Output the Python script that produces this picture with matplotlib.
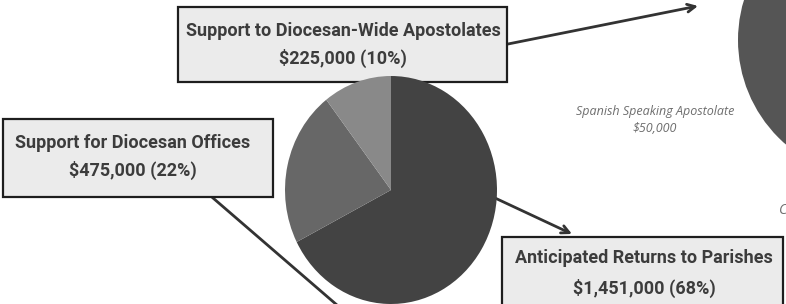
import matplotlib
matplotlib.use('Agg')
import matplotlib.pyplot as plt
from matplotlib.patches import Rectangle, Circle

# slice data (clockwise from 12 o'clock)
labels = ["Anticipated Returns to Parishes",
          "Support for Diocesan Offices",
          "Support to Diocesan-Wide Apostolates"]
amounts = [1451000, 475000, 225000]
percents = [68, 22, 10]
slice_colors = ["#434343", "#676767", "#898989"]

side_label = "Spanish Speaking Apostolate"
side_amount = 50000

W, H = 786, 304
fig = plt.figure(figsize=(W / 100, H / 100), dpi=100)

# full-figure axes in pixel coordinates for boxes, arrows and text
ax = fig.add_axes([0, 0, 1, 1])
ax.set_xlim(0, W)
ax.set_ylim(H, 0)
ax.axis('off')

# pie gets its own axes so it can be slightly taller than wide
pie_left, pie_top, pie_w, pie_h = 285, 76, 212, 228
pax = fig.add_axes([pie_left / W, 1 - (pie_top + pie_h) / H, pie_w / W, pie_h / H])
pax.pie(amounts, colors=slice_colors, startangle=90, counterclock=False,
        wedgeprops=dict(linewidth=0))
pax.set_aspect('auto')
pax.set_xlim(-1, 1)
pax.set_ylim(-1, 1)
pax.axis('off')

# part of the neighbouring pie, cut by the right edge
ax.add_patch(Circle((876, 40), 138, color="#555555", lw=0, zorder=1))

side_kw = dict(ha='center', va='center', fontsize=9, style='italic',
               family='Open Sans', color="#6e6e6e")
ax.text(655, 112, side_label, **side_kw)
ax.text(655, 129, "${:,}".format(side_amount), **side_kw)
ax.text(779, 210, "C", **dict(side_kw, ha='left', fontsize=10))

txt_kw = dict(ha='center', va='center', fontsize=13, family='Roboto',
              fontweight='bold', color="#3c3c3c", zorder=5)


def label_box(x0, y0, x1, y1, cx, y_name, y_val, i):
    ax.add_patch(Rectangle((x0, y0), x1 - x0, y1 - y0, facecolor="#ebebeb",
                           edgecolor="#1e1e1e", lw=1.6, zorder=4))
    ax.text(cx, y_name, labels[i], **txt_kw)
    ax.text(cx, y_val, "${:,} ({}%)".format(amounts[i], percents[i]), **txt_kw)


arrow_kw = dict(arrowstyle='->', color="#333333", lw=2, mutation_scale=14,
                shrinkA=0, shrinkB=0)

# leader lines
ax.annotate("", xy=(698, 6), xytext=(508, 44), arrowprops=arrow_kw, zorder=3)
ax.annotate("", xy=(572, 234), xytext=(495, 198), arrowprops=arrow_kw, zorder=3)
ax.plot([213, 352], [198, 318], color="#333333", lw=2, zorder=3, clip_on=False)

label_box(178, 7, 507, 82, 343, 31, 58, 2)
label_box(3, 119, 273, 197, 133, 143, 170, 1)
label_box(502, 237, 783, 315, 644, 258, 288, 0)

fig.savefig("out.png", dpi=100)
